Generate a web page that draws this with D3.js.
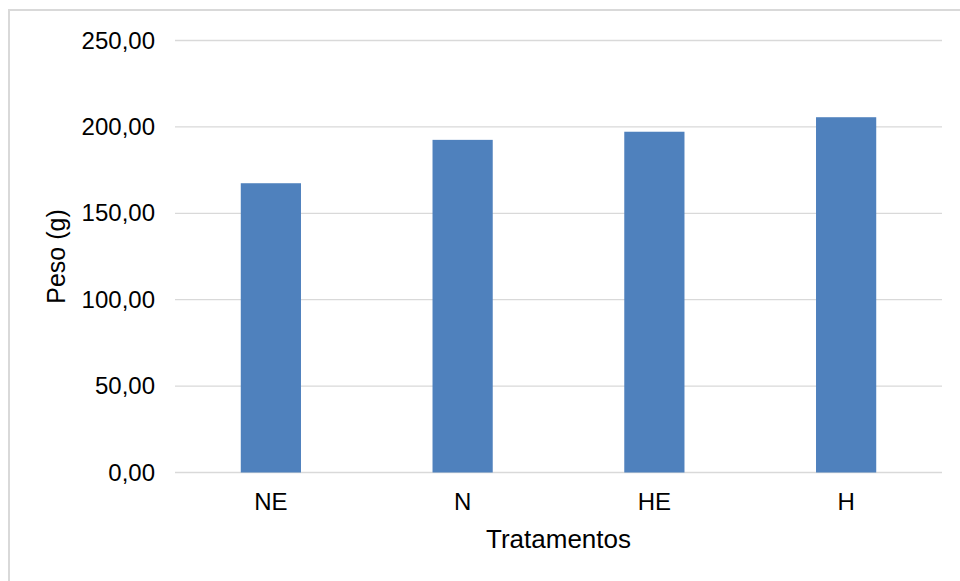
<!DOCTYPE html>
<html>
<head>
<meta charset="utf-8">
<script src="https://cdn.jsdelivr.net/npm/d3@7.9.0/dist/d3.min.js"></script>
<style>
  body { margin: 0; background: #fff; }
  svg { display: block; font-family: Arial, "Liberation Sans", sans-serif; }
</style>
</head>
<body>
<svg id="chart" width="960" height="581"></svg>
<script>
// data
const categories = ['NE', 'N', 'HE', 'H'];
const values = [167.4, 192.5, 197.2, 205.6];
const yTicks = [0, 50, 100, 150, 200, 250];

const svg = d3.select('#chart');
const margin = { left: 175, right: 18, top: 40.5, bottom: 108.5 };
const W = 960, H = 581;

// chart frame (only top and left edges show)
svg.append('rect')
  .attr('x', 9).attr('y', 10)
  .attr('width', 1000).attr('height', 1000)
  .attr('fill', 'none')
  .attr('stroke', '#d9d9d9')
  .attr('stroke-width', 2);

const x = d3.scaleBand()
  .domain(categories)
  .range([margin.left, W - margin.right])
  .paddingInner(0.686)
  .paddingOuter(0.343);

const y = d3.scaleLinear()
  .domain([0, 250])
  .range([H - margin.bottom, margin.top]);

// gridlines
svg.append('g')
  .selectAll('line')
  .data(yTicks)
  .join('line')
  .attr('x1', margin.left)
  .attr('x2', W - margin.right)
  .attr('y1', d => y(d))
  .attr('y2', d => y(d))
  .attr('stroke', '#d9d9d9')
  .attr('stroke-width', 1.3);

// bars
svg.append('g')
  .selectAll('rect')
  .data(values)
  .join('rect')
  .attr('x', (d, i) => x(categories[i]))
  .attr('width', x.bandwidth())
  .attr('y', d => y(d))
  .attr('height', d => y(0) - y(d))
  .attr('fill', '#4f81bd');

// y tick labels
const fmt = d => d3.format('.2f')(d).replace('.', ',');
svg.append('g')
  .selectAll('text')
  .data(yTicks)
  .join('text')
  .attr('x', 155)
  .attr('y', d => y(d) + 8)
  .attr('text-anchor', 'end')
  .attr('font-size', 24)
  .attr('fill', '#000')
  .text(fmt);

// x category labels
svg.append('g')
  .selectAll('text')
  .data(categories)
  .join('text')
  .attr('x', d => x(d) + x.bandwidth() / 2)
  .attr('y', 510)
  .attr('text-anchor', 'middle')
  .attr('font-size', 24)
  .attr('fill', '#000')
  .text(d => d);

// axis titles
svg.append('text')
  .attr('x', (margin.left + W - margin.right) / 2)
  .attr('y', 548)
  .attr('text-anchor', 'middle')
  .attr('font-size', 26)
  .attr('fill', '#000')
  .text('Tratamentos');

svg.append('text')
  .attr('transform', `translate(65,${(y(0) + y(250)) / 2}) rotate(-90)`)
  .attr('text-anchor', 'middle')
  .attr('font-size', 25)
  .attr('fill', '#000')
  .text('Peso (g)');
</script>
</body>
</html>
